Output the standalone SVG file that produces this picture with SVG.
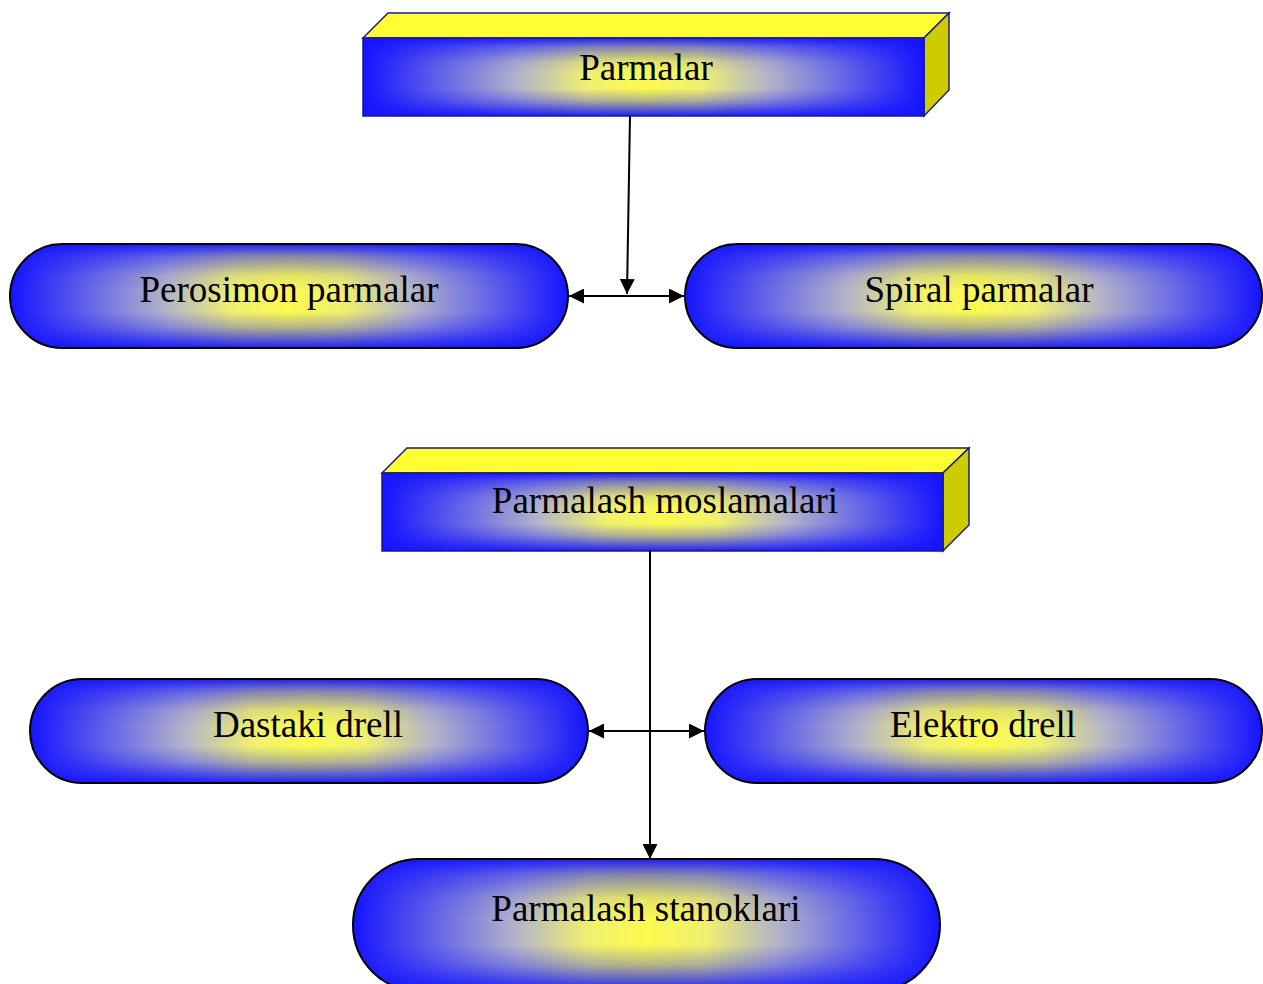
<svg xmlns="http://www.w3.org/2000/svg" width="1263" height="984" viewBox="0 0 1263 984">
<defs>
<linearGradient id="gh" x1="0" y1="0" x2="1" y2="0">
<stop offset="0" stop-color="#1414ff"/>
<stop offset="0.15" stop-color="#6a6ae6"/>
<stop offset="0.28" stop-color="#b4b4c8"/>
<stop offset="0.4" stop-color="#f0f070"/>
<stop offset="0.5" stop-color="#fafa50"/>
<stop offset="0.6" stop-color="#f0f070"/>
<stop offset="0.72" stop-color="#b4b4c8"/>
<stop offset="0.85" stop-color="#6a6ae6"/>
<stop offset="1" stop-color="#1414ff"/>
</linearGradient>
<linearGradient id="gv" x1="0" y1="0" x2="0" y2="1">
<stop offset="0" stop-color="#1414ff" stop-opacity="0.95"/>
<stop offset="0.12" stop-color="#1414ff" stop-opacity="0.5"/>
<stop offset="0.3" stop-color="#1414ff" stop-opacity="0.1"/>
<stop offset="0.45" stop-color="#1414ff" stop-opacity="0"/>
<stop offset="0.65" stop-color="#1414ff" stop-opacity="0"/>
<stop offset="0.8" stop-color="#1414ff" stop-opacity="0.3"/>
<stop offset="1" stop-color="#1414ff" stop-opacity="0.95"/>
</linearGradient>
<marker id="ah" viewBox="0 0 10 10" refX="10" refY="5" markerWidth="15" markerHeight="15" markerUnits="userSpaceOnUse" orient="auto-start-reverse">
<path d="M0,0 L10,5 L0,10 z" fill="#000"/>
</marker>
<style>
.t{font-family:"Liberation Serif","Times New Roman",serif;font-size:37px;fill:#000;text-anchor:middle}
.top{fill:#ffff33;stroke:#1a1a8c;stroke-width:1.5}
.side{fill:#cccc00;stroke:#1a1a8c;stroke-width:1.5}
.front{stroke:#1a1a8c;stroke-width:1.5}
.pill{stroke:#000;stroke-width:2}
.c{stroke:#000;stroke-width:2;fill:none}
</style>
</defs>
<rect width="1263" height="984" fill="#fff"/>
<g id="parmalar">
<polygon class="top" points="363,38 388,13 949,13 924,38"/>
<polygon class="side" points="924,38 949,13 949,90 924,116"/>
<rect x="363" y="38" width="561" height="78" fill="url(#gh)"/>
<rect class="front" x="363" y="38" width="561" height="78" fill="url(#gv)"/>
<text class="t" x="646" y="80">Parmalar</text>
</g>
<g id="perosimon">
<rect x="10" y="244" width="558" height="104" rx="52" fill="url(#gh)"/>
<rect class="pill" x="10" y="244" width="558" height="104" rx="52" fill="url(#gv)"/>
<text class="t" x="289" y="302">Perosimon parmalar</text>
</g>
<g id="spiral">
<rect x="685" y="244" width="577" height="104" rx="52" fill="url(#gh)"/>
<rect class="pill" x="685" y="244" width="577" height="104" rx="52" fill="url(#gv)"/>
<text class="t" x="979" y="302">Spiral parmalar</text>
</g>
<g id="moslamalari">
<polygon class="top" points="382,473 407,448 969,448 943,473"/>
<polygon class="side" points="943,473 969,448 969,525 943,551"/>
<rect x="382" y="473" width="561" height="78" fill="url(#gh)"/>
<rect class="front" x="382" y="473" width="561" height="78" fill="url(#gv)"/>
<text class="t" x="665" y="513">Parmalash moslamalari</text>
</g>
<g id="dastaki">
<rect x="30" y="679" width="558" height="104" rx="52" fill="url(#gh)"/>
<rect class="pill" x="30" y="679" width="558" height="104" rx="52" fill="url(#gv)"/>
<text class="t" x="308" y="737">Dastaki drell</text>
</g>
<g id="elektro">
<rect x="705" y="679" width="557" height="104" rx="52" fill="url(#gh)"/>
<rect class="pill" x="705" y="679" width="557" height="104" rx="52" fill="url(#gv)"/>
<text class="t" x="983" y="737">Elektro drell</text>
</g>
<g id="stanoklari">
<rect x="353" y="859" width="587" height="132" rx="66" fill="url(#gh)"/>
<rect class="pill" x="353" y="859" width="587" height="132" rx="66" fill="url(#gv)"/>
<text class="t" x="646" y="921">Parmalash stanoklari</text>
</g>
<g id="connectors">
<line class="c" x1="630" y1="116" x2="627" y2="294" marker-end="url(#ah)"/>
<line class="c" x1="569" y1="296" x2="684" y2="296" marker-start="url(#ah)" marker-end="url(#ah)"/>
<line class="c" x1="650" y1="551" x2="650" y2="859" marker-end="url(#ah)"/>
<line class="c" x1="589" y1="731" x2="704" y2="731" marker-start="url(#ah)" marker-end="url(#ah)"/>
</g>
</svg>
